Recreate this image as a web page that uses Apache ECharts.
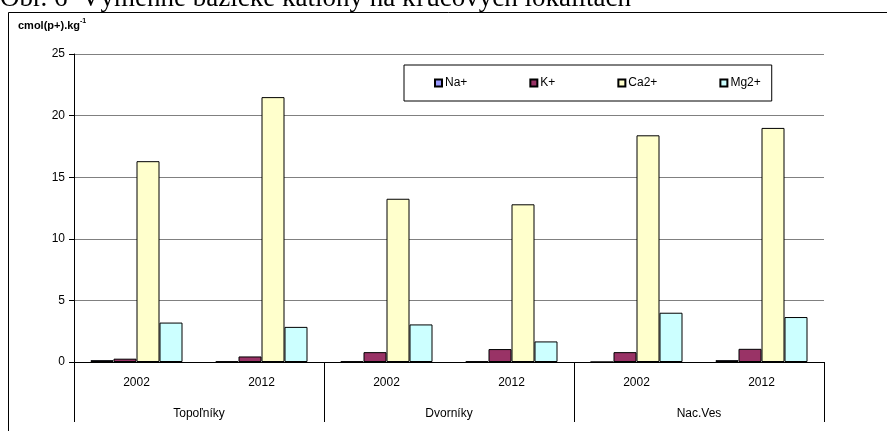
<!DOCTYPE html>
<html>
<head>
<meta charset="utf-8">
<script src="https://cdn.jsdelivr.net/npm/echarts@6/dist/echarts.min.js"></script>
<style>
  html, body { margin: 0; padding: 0; background: #fff; }
  #chart { width: 887px; height: 431px; }
</style>
</head>
<body>
<div id="chart"></div>
<script>
// Exchangeable base cations, cmol(p+).kg-1, per site and sampling year
const years = ['2002', '2012', '2002', '2012', '2002', '2012'];
const sites = ['Topoľníky', 'Dvorníky', 'Nac.Ves'];
const seriesNames = ['Na+', 'K+', 'Ca2+', 'Mg2+'];
const na = [0.15, 0.05, 0.05, 0.05, 0, 0.15];
const k  = [0.27, 0.45, 0.8, 1.05, 0.8, 1.07];
const ca = [16.3, 21.5, 13.25, 12.8, 18.4, 19.0];
const mg = [3.2, 2.85, 3.05, 1.67, 4.0, 3.65];
const yTicks = { min: 0, max: 25, interval: 5 };

const colors = ['#9999FF', '#993366', '#FFFFCC', '#CCFFFF'];
const values = [na, k, ca, mg];

const chart = echarts.init(document.getElementById('chart'), null, { renderer: 'canvas' });

chart.setOption({
  animation: false,
  backgroundColor: '#fff',
  textStyle: { fontFamily: 'Liberation Sans, Arial, sans-serif', color: '#000' },
  graphic: [
    {
      type: 'text', left: 0, top: -15, silent: true,
      style: {
        text: 'Obr. 6  Výmenné bázické katióny na kľúčových lokalitách',
        font: '27px "Liberation Serif", "Times New Roman", serif',
        fill: '#000'
      }
    },
    {
      type: 'rect', silent: true, z: -1,
      shape: { x: 8.5, y: 12.5, width: 900, height: 440 },
      style: { fill: 'none', stroke: '#000', lineWidth: 1 }
    },
    {
      type: 'text', left: 18, top: 18, silent: true,
      style: {
        text: '{b|cmol(p+).kg}{s|-1}',
        rich: {
          b: { font: 'bold 11px "Liberation Sans", Arial, sans-serif', fill: '#000', verticalAlign: 'bottom' },
          s: { font: 'bold 7px "Liberation Sans", Arial, sans-serif', fill: '#000', verticalAlign: 'top', padding: [0, 0, 6, 0] }
        }
      }
    }
  ],
  legend: {
    left: 404, top: 65,
    padding: [12, 11, 12, 30],
    itemGap: 62,
    itemWidth: 7, itemHeight: 7,
    borderColor: '#000', borderWidth: 1,
    backgroundColor: '#fff',
    textStyle: { fontSize: 12, color: '#000', fontFamily: 'Liberation Sans, Arial, sans-serif', padding: [0, 0, 0, -2] },
    data: seriesNames.map(n => ({ name: n, icon: 'rect' }))
  },
  grid: { left: 74, right: 63, top: 54, bottom: 69 },
  xAxis: [
    {
      type: 'category',
      data: years,
      axisLine: { lineStyle: { color: '#000', width: 1 } },
      axisTick: { length: 31, lineStyle: { color: '#000' } },
      axisLabel: { fontSize: 12, color: '#000', margin: 15 },
      splitLine: { show: false }
    },
    {
      type: 'category',
      data: sites,
      position: 'bottom',
      axisLine: { show: true, lineStyle: { color: '#000', width: 1 } },
      axisTick: { show: true, length: 60, interval: 0, lineStyle: { color: '#000' } },
      axisLabel: { fontSize: 12, color: '#000', margin: 46 },
      splitLine: { show: false }
    }
  ],
  yAxis: {
    type: 'value',
    min: yTicks.min, max: yTicks.max, interval: yTicks.interval,
    axisLine: { show: true, lineStyle: { color: '#000' } },
    axisTick: { show: true, length: 5, lineStyle: { color: '#000' } },
    axisLabel: { fontSize: 12, color: '#000', margin: 9 },
    splitLine: { lineStyle: { color: '#808080', width: 1 } }
  },
  series: seriesNames.map((name, i) => ({
    name,
    type: 'bar',
    xAxisIndex: 0,
    data: values[i],
    barWidth: 23,
    barGap: '0%',
    itemStyle: { color: colors[i], borderColor: '#000', borderWidth: 1 }
  }))
});
</script>
</body>
</html>
